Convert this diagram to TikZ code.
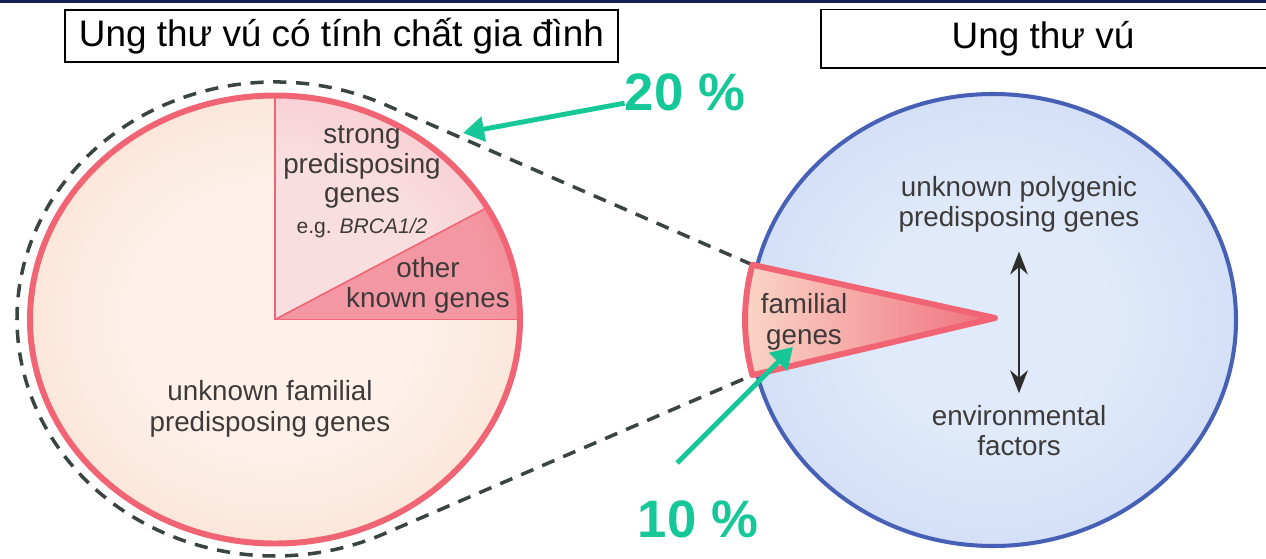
\documentclass[tikz,border=0pt]{standalone}
\usepackage{fontspec}
\setmainfont{Liberation Sans}
\usepackage{xcolor}
\usetikzlibrary{arrows.meta}

\definecolor{navybar}{RGB}{20,30,80}
\definecolor{pinkline}{RGB}{240,100,115}
\definecolor{peachin}{RGB}{253,241,234}
\definecolor{peachout}{RGB}{248,208,182}
\definecolor{strongin}{RGB}{249,222,224}
\definecolor{strongout}{RGB}{243,162,172}
\definecolor{otherin}{RGB}{243,152,162}
\definecolor{otherout}{RGB}{236,80,98}
\definecolor{bluein}{RGB}{224,234,250}
\definecolor{blueout}{RGB}{186,205,240}
\definecolor{blueline}{RGB}{70,96,182}
\definecolor{wedgeleft}{RGB}{250,214,198}
\definecolor{wedgeright}{RGB}{240,112,126}
\definecolor{textgray}{RGB}{62,58,58}
\definecolor{arrowgray}{RGB}{45,45,45}
\definecolor{dashgray}{RGB}{58,68,66}
\definecolor{pctgreen}{RGB}{22,200,152}

\pgfdeclareradialshading{peachfill}{\pgfpoint{0bp}{0bp}}{color(0bp)=(peachin); color(14bp)=(peachin); color(50bp)=(peachout); color(100bp)=(peachout)}
\pgfdeclareradialshading{strongfill}{\pgfpoint{0bp}{0bp}}{color(0bp)=(strongin); color(18bp)=(strongin); color(50bp)=(strongout); color(100bp)=(strongout)}
\pgfdeclareradialshading{otherfill}{\pgfpoint{0bp}{0bp}}{color(0bp)=(otherin); color(22bp)=(otherin); color(50bp)=(otherout); color(100bp)=(otherout)}
\pgfdeclareradialshading{bluefill}{\pgfpoint{0bp}{0bp}}{color(0bp)=(bluein); color(12bp)=(bluein); color(50bp)=(blueout); color(100bp)=(blueout)}

\begin{document}
\begin{tikzpicture}[x=0.02cm, y=-0.02cm,
    txt/.style={text=textgray, font=\fontsize{15.8}{17}\selectfont, align=center, inner sep=0pt},
    pct/.style={text=pctgreen, font=\fontsize{30}{30}\selectfont\bfseries, inner sep=0pt},
    pctarrow/.style={draw=pctgreen, line width=2.8pt, -{Triangle[width=14pt,length=12pt]}},
    zoomline/.style={draw=dashgray, line width=2pt, dash pattern=on 7.5pt off 5.5pt},
    dblarrow/.style={draw=arrowgray, line width=1.5pt, {Stealth[length=13pt,width=10pt]}-{Stealth[length=13pt,width=10pt]}},
    titlefont/.style={font=\fontsize{21}{21}\selectfont, inner sep=0pt}]
	\useasboundingbox (0,0) rectangle (1266,558);
	\fill[navybar] (0,0) rectangle (1266,2.5);

	\node[titlefont, draw, line width=1pt, minimum width=11.06cm, minimum height=1.04cm] (famtitle) at (341.5,36) {Ung thư vú có tính chất gia đình};
	\node[titlefont] (cancertitle) at (1043,39) {Ung thư vú};
	\draw[line width=1pt] (1266,9.5) -| (821,68) -- (1266,68);

	\pgfmathsetmacro{\prx}{245}
	\pgfmathsetmacro{\pry}{224}
	\coordinate (pc) at (275,319.5);
	\shade[shading=peachfill] (pc) ellipse[x radius=\prx, y radius=\pry];
	\begin{scope}
		\clip (pc) -- ++(0,-\pry) arc[start angle=-90, end angle=-30, x radius=\prx, y radius=\pry] -- cycle;
		\shade[shading=strongfill] (pc) ellipse[x radius=\prx, y radius=\pry];
	\end{scope}
	\begin{scope}
		\clip (pc) -- ++(\prx,0) arc[start angle=0, end angle=-30, x radius=\prx, y radius=\pry] -- cycle;
		\shade[shading=otherfill] (pc) ellipse[x radius=\prx, y radius=\pry];
	\end{scope}
	\draw[pinkline, line width=0.9pt] (pc) -- ++(0,-\pry);
	\draw[pinkline, line width=0.9pt] (pc) -- ++(\prx,0);
	\draw[pinkline, line width=0.9pt] (pc) -- ++(-30:{\prx} and {\pry});
	\draw[pinkline, line width=3.4pt] (pc) ellipse[x radius=\prx, y radius=\pry];

	\node[txt] (strong) at (362,167) {strong\\predisposing\\genes};
	\node[txt, font=\fontsize{12}{12}\selectfont] (brca) at (362,228) {e.g. \textit{BRCA1/2}};
	\node[txt] (other) at (428,285) {other\\known genes};
	\node[txt, font=\fontsize{15.8}{18}\selectfont] (unknownfam) at (270,409) {unknown familial\\predisposing genes};

	\coordinate (wtop) at (752.4,264.8);
	\coordinate (wbot) at (752.4,375.2);
	\coordinate (apex) at (995,318);
	\draw[zoomline] (wtop) -- (385.9,105.0) arc[start angle=-64.55, end angle=-295.17, x radius=258, y radius=237] -- (wbot);

	\coordinate (bc) at (993,320);
	\shade[shading=bluefill] (bc) ellipse[x radius=243, y radius=226];
	\draw[blueline, line width=2.3pt] (bc) ellipse[x radius=243, y radius=226];

	\shade[left color=wedgeleft, right color=wedgeright] (apex) -- (wtop) arc[start angle=-166, end angle=-194, x radius=248, y radius=228] -- cycle;
	\draw[pinkline, line width=3.4pt, line join=round] (apex) -- (wtop) arc[start angle=-166, end angle=-194, x radius=248, y radius=228] -- cycle;
	\node[txt, font=\fontsize{15.8}{17.6}\selectfont] (familial) at (804,322) {familial\\genes};

	\node[txt] (polygenic) at (1019,204) {unknown polygenic\\predisposing genes};
	\node[txt] (envir) at (1019,431) {environmental\\factors};
	\draw[dblarrow, shorten <=11pt, shorten >=7pt] (polygenic.south) -- (envir.north);

	\node[pct] (twenty) at (685,92) {20 \%};
	\node[pct] (ten) at (698,519) {10 \%};
	\coordinate (hit20) at (463,133);
	\coordinate (tail10) at (677,463);
	\coordinate (hit10) at (793,347);
	\draw[pctarrow] (twenty) -- (hit20);
	\draw[pctarrow] (tail10) -- (hit10);
\end{tikzpicture}
\end{document}
